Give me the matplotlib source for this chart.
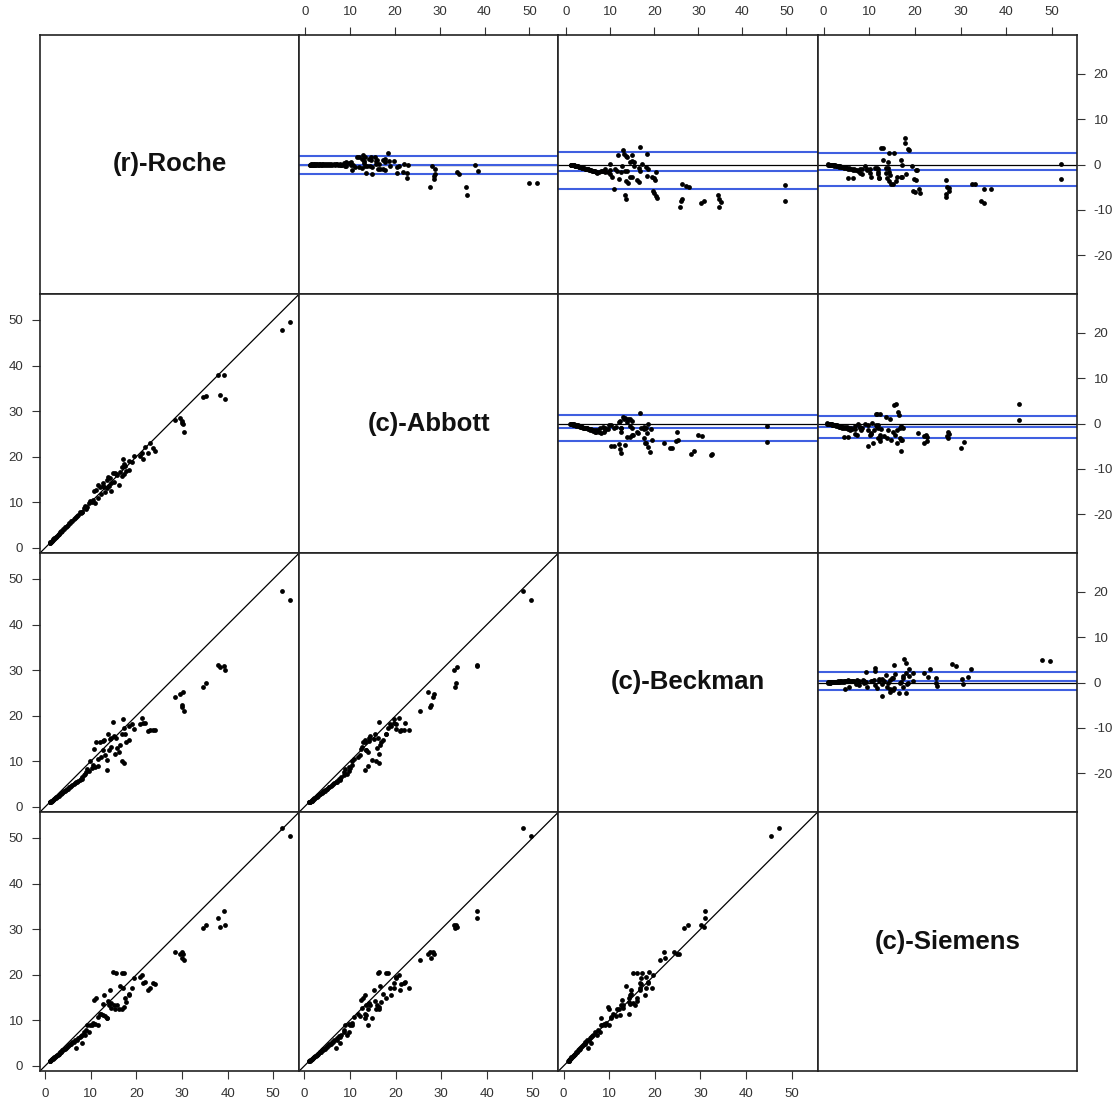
import numpy as np
import matplotlib
matplotlib.use("Agg")
import matplotlib.pyplot as plt

# One entry per sample, same order in every method
roche = [1.0, 1.1, 1.2, 1.3, 1.4, 1.5, 1.6, 1.7, 1.8, 1.9,
         2.0, 2.2, 2.3, 2.5, 2.6, 2.8, 3.0, 3.1, 3.3, 3.5,
         3.6, 3.8, 4.0, 4.2, 4.4, 4.6, 4.8, 5.0, 5.3, 5.5,
         5.8, 6.0, 6.3, 6.6, 6.8, 7.0, 7.3, 7.6, 7.8, 8.0,
         8.2, 8.5, 8.8, 9.0, 9.3, 9.6, 9.9, 10.2, 10.6, 10.8,
         11.0, 11.2, 11.5, 11.7, 12.0, 12.3, 12.6, 12.8, 13.1, 13.5,
         13.5, 13.8, 14.0, 14.2, 14.5, 14.8, 15.1, 15.4, 15.5, 15.8,
         16.1, 16.4, 16.8, 17.1, 17.2, 17.5, 16.8, 17.2, 17.8, 18.3,
         18.5, 19.1, 19.5, 20.8, 21.2, 21.5, 21.9, 22.6, 23.0, 23.7,
         24.2, 14.5, 13.0,
         53.6, 51.9, 37.9, 38.4, 39.3, 39.4, 34.7, 35.3, 28.5, 29.6,
         30.0, 30.3, 30.4, 30.0]
abbott = [1.0, 1.1, 1.3, 1.3, 1.4, 1.6, 1.6, 1.7, 1.9, 1.9,
          2.1, 2.2, 2.4, 2.5, 2.7, 2.8, 3.1, 3.0, 3.4, 3.5,
          3.7, 3.8, 4.1, 4.2, 4.5, 4.6, 4.9, 5.0, 5.4, 5.5,
          5.9, 6.0, 6.4, 6.5, 6.9, 7.1, 7.2, 7.8, 7.6, 7.9,
          8.0, 8.8, 9.3, 8.6, 9.0, 9.9, 10.4, 10.0, 10.5, 12.4,
          9.8, 12.8, 10.9, 13.9, 13.3, 11.8, 14.2, 13.5, 12.3, 14.8,
          13.2, 15.5, 13.6, 15.3, 12.6, 16.4, 14.5, 16.4, 16.2, 15.9,
          13.9, 16.6, 17.8, 19.6, 18.4, 18.0, 15.7, 16.3, 16.9, 19.1,
          17.2, 18.8, 20.2, 20.2, 20.8, 19.6, 22.1, 20.9, 23.0, 21.9,
          21.2, 14.2, 13.4,
          49.6, 47.9, 37.9, 33.5, 37.9, 32.7, 33.1, 33.3, 28.1, 28.5,
          27.5, 27.2, 25.4, 27.8]
beckman = [1.0, 1.1, 1.1, 1.2, 1.3, 1.4, 1.4, 1.5, 1.6, 1.7,
           1.7, 1.9, 2.0, 2.1, 2.2, 2.4, 2.5, 2.6, 2.8, 2.9,
           3.0, 3.1, 3.3, 3.4, 3.6, 3.7, 3.9, 4.0, 4.3, 4.4,
           4.6, 4.8, 5.0, 5.2, 5.4, 5.5, 5.8, 6.0, 6.2, 6.1,
           6.5, 7.0, 7.3, 7.6, 8.3, 8.0, 10.0, 8.5, 9.3, 12.8,
           8.8, 14.3, 10.5, 9.0, 14.3, 10.9, 14.5, 12.4, 11.5, 10.3,
           8.2, 16.0, 12.5, 14.8, 13.1, 18.7, 15.6, 11.7, 15.2, 13.0,
           12.1, 13.6, 16.0, 19.4, 17.3, 16.0, 10.0, 9.7, 14.3, 17.8,
           14.7, 18.1, 17.0, 18.1, 19.6, 18.5, 18.5, 16.7, 16.8, 16.8,
           16.9, 15.2, 14.6,
           45.5, 47.3, 31.1, 30.8, 31.0, 30.1, 26.3, 27.3, 24.2, 24.8,
           22.0, 25.3, 21.1, 22.3]
siemens = [1.1, 1.0, 1.2, 1.3, 1.3, 1.5, 1.6, 1.5, 1.7, 1.8,
           1.9, 2.0, 2.2, 2.2, 2.4, 2.5, 2.7, 2.7, 3.0, 3.1,
           3.1, 3.4, 3.5, 3.7, 3.8, 4.0, 4.1, 4.4, 4.5, 4.8,
           4.9, 5.2, 5.3, 5.7, 3.9, 5.8, 6.2, 6.3, 6.6, 5.0,
           6.8, 7.5, 6.9, 8.0, 8.9, 7.4, 9.0, 8.9, 9.5, 14.5,
           9.1, 14.9, 10.8, 8.9, 11.3, 11.4, 13.5, 11.2, 10.9, 10.6,
           10.6, 14.3, 13.3, 16.7, 12.7, 20.7, 13.4, 12.5, 20.3, 13.4,
           12.4, 17.5, 20.3, 17.0, 20.3, 14.8, 12.6, 13.0, 14.1, 15.5,
           15.8, 17.0, 19.2, 19.6, 19.9, 18.2, 18.5, 16.7, 17.0, 18.2,
           17.9, 13.8, 15.5,
           50.4, 52.1, 32.4, 30.4, 33.9, 30.9, 30.3, 30.9, 25.1, 24.6,
           24.9, 24.5, 23.2, 23.6]

method_labels = ["(r)-Roche", "(c)-Abbott", "(c)-Beckman", "(c)-Siemens"]

# difference panels (row, col): bias and limits of agreement as drawn
ba_pairs = [(0, 1), (0, 2), (0, 3), (1, 2), (1, 3), (2, 3)]
ba_bias = [-0.17, -1.35, -1.15, -1.05, -0.8, 0.3]
ba_upper = [1.85, 2.8, 2.5, 1.8, 1.7, 2.3]
ba_lower = [-2.2, -5.5, -4.8, -3.9, -3.3, -1.7]

# layout
SCATTER_LIM = (-1.1, 55.7)
DIFF_YLIM = (-28.5, 28.5)
DIFF_XLIM = {(0, 1): (-1.34, 56.5), (0, 2): (-1.8, 57.1), (0, 3): (-1.3, 55.5),
             (1, 2): (-1.8, 59.7), (1, 3): (-1.3, 64.8), (2, 3): (-1.3, 55.7)}
BLUE = '#3f5fe0'
TICK_KW = dict(direction='out', length=6, width=0.8, color='#333333',
               labelsize=9.5, labelcolor='#333333', pad=6)


def main():
    plt.rcParams['font.family'] = ['Liberation Sans', 'DejaVu Sans']
    plt.rcParams['axes.unicode_minus'] = False
    data = [np.array(v) for v in (roche, abbott, beckman, siemens)]
    n = len(data)

    fig, axs = plt.subplots(n, n, figsize=(11.14, 11.04), dpi=100)
    fig.subplots_adjust(left=40 / 1114, right=1077 / 1114, top=1 - 35 / 1104,
                        bottom=1 - 1071 / 1104, wspace=0, hspace=0)

    for i in range(n):
        for j in range(n):
            ax = axs[i, j]
            ax.tick_params(which='both', bottom=False, top=False, left=False, right=False,
                           labelbottom=False, labeltop=False, labelleft=False, labelright=False)
            for sp in ax.spines.values():
                sp.set_linewidth(1.2)
                sp.set_color('#222222')

            if i == j:
                ax.set_xlim(0, 1)
                ax.set_ylim(0, 1)
                ax.text(0.5, 0.5, method_labels[i], ha='center', va='center',
                        fontsize=18.5, fontweight='bold', color='#111111')
                ax.set_xticks([])
                ax.set_yticks([])
            elif i > j:
                # method comparison: column method on x, row method on y
                ax.plot(SCATTER_LIM, SCATTER_LIM, color='black', lw=0.9, zorder=1)
                ax.scatter(data[j], data[i], s=12, color='black', linewidths=0, zorder=3)
                ax.set_xlim(SCATTER_LIM)
                ax.set_ylim(SCATTER_LIM)
                ax.set_xticks(range(0, 51, 10))
                ax.set_yticks(range(0, 51, 10))
                if i == n - 1:
                    ax.tick_params(axis='x', bottom=True, labelbottom=True, **TICK_KW)
                if j == 0:
                    ax.tick_params(axis='y', left=True, labelleft=True, **TICK_KW)
            else:
                # Bland-Altman: mean of the pair vs difference
                k = ba_pairs.index((i, j))
                mean = (data[i] + data[j]) / 2
                diff = data[j] - data[i]
                ax.axhline(0, color='black', lw=0.9, zorder=1)
                for yv in (ba_upper[k], ba_bias[k], ba_lower[k]):
                    ax.axhline(yv, color=BLUE, lw=1.5, zorder=2)
                ax.scatter(mean, diff, s=12, color='black', linewidths=0, zorder=3)
                ax.set_xlim(DIFF_XLIM[(i, j)])
                ax.set_ylim(DIFF_YLIM)
                ax.set_xticks(range(0, 51, 10))
                ax.set_yticks(range(-20, 21, 10))
                if i == 0:
                    ax.tick_params(axis='x', top=True, labeltop=True, **TICK_KW)
                if j == n - 1:
                    ax.tick_params(axis='y', right=True, labelright=True, **TICK_KW)

    fig.savefig('out.png', dpi=100)
    plt.close(fig)


if __name__ == '__main__':
    main()
